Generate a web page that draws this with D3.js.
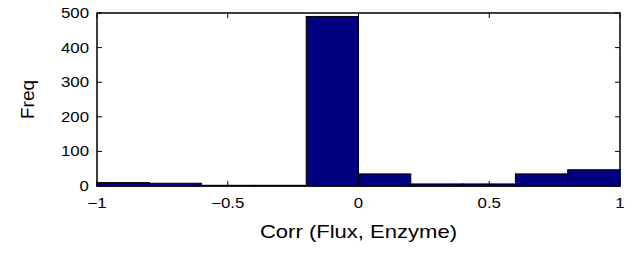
<!DOCTYPE html>
<html>
  <head>
    <meta charset="utf-8" />
    <script src="https://d3js.org/d3.v7.min.js"></script>
    <style>
      body { margin: 0; background: #fff; }
      text { font-family: "Liberation Sans", Arial, sans-serif; fill: #000; }
    </style>
  </head>
  <body>
    <svg id="chart" width="639" height="253"></svg>
    <script>
      // histogram bins (left edges) and counts
      var binEdges = [-1, -0.8, -0.6, -0.4, -0.2, 0, 0.2, 0.4, 0.6, 0.8];
      var binWidth = 0.2;
      var counts = [10, 8, 2, 2, 490, 35, 6, 6, 35, 47];
      var xTicks = [-1, -0.5, 0, 0.5, 1];
      var yTicks = [0, 100, 200, 300, 400, 500];

      var svg = d3.select("#chart");
      // plot box (note: "top" is a reserved window property, so use other names)
      var plotL = 97, plotR = 620, plotT = 13, plotB = 186;
      var stretch = 1.16;

      var x = d3.scaleLinear().domain([-1, 1]).range([plotL, plotR]);
      var y = d3.scaleLinear().domain([0, 500]).range([plotB, plotT]);

      // bars
      svg.selectAll(".bar")
        .data(counts)
        .enter().append("rect")
        .attr("class", "bar")
        .attr("x", function(d, i) { return x(binEdges[i]); })
        .attr("width", function(d, i) { return x(binEdges[i] + binWidth) - x(binEdges[i]); })
        .attr("y", function(d) { return y(d); })
        .attr("height", function(d) { return y(0) - y(d); })
        .attr("fill", "#000080")
        .attr("stroke", "#000")
        .attr("stroke-width", 1);

      // box
      svg.append("rect")
        .attr("x", plotL).attr("y", plotT)
        .attr("width", plotR - plotL).attr("height", plotB - plotT)
        .attr("fill", "none").attr("stroke", "#000").attr("stroke-width", 1.5);

      function fmt(v) {
        return String(v).replace("-", "\u2212");
      }

      function widen(sel) {
        sel.each(function() {
          var w = this.getComputedTextLength();
          d3.select(this).attr("textLength", w * stretch).attr("lengthAdjust", "spacingAndGlyphs");
        });
      }

      // x ticks (inward, bottom and top)
      var tickLen = 5;
      xTicks.forEach(function(t) {
        svg.append("line").attr("x1", x(t)).attr("x2", x(t))
          .attr("y1", plotB).attr("y2", plotB - tickLen).attr("stroke", "#000");
        svg.append("line").attr("x1", x(t)).attr("x2", x(t))
          .attr("y1", plotT).attr("y2", plotT + tickLen).attr("stroke", "#000");
      });
      svg.selectAll(".xlab")
        .data(xTicks)
        .enter().append("text")
        .attr("class", "xlab")
        .attr("x", function(d) { return x(d); })
        .attr("y", 208)
        .attr("text-anchor", "middle")
        .attr("font-size", 14.5)
        .text(fmt)
        .call(widen);

      yTicks.forEach(function(t) {
        svg.append("line").attr("x1", plotL).attr("x2", plotL + tickLen)
          .attr("y1", y(t)).attr("y2", y(t)).attr("stroke", "#000");
        svg.append("line").attr("x1", plotR).attr("x2", plotR - tickLen)
          .attr("y1", y(t)).attr("y2", y(t)).attr("stroke", "#000");
      });
      svg.selectAll(".ylab")
        .data(yTicks)
        .enter().append("text")
        .attr("class", "ylab")
        .attr("x", 89)
        .attr("y", function(d) { return y(d) + 5; })
        .attr("text-anchor", "end")
        .attr("font-size", 14.5)
        .text(fmt)
        .call(widen);

      svg.append("text")
        .attr("x", (plotL + plotR) / 2)
        .attr("y", 238)
        .attr("text-anchor", "middle")
        .attr("font-size", 19)
        .text("Corr (Flux, Enzyme)")
        .call(widen);

      svg.append("text")
        .attr("transform", "translate(34," + ((plotT + plotB) / 2) + ") rotate(-90)")
        .attr("text-anchor", "middle")
        .attr("font-size", 19)
        .text("Freq");
    </script>
  </body>
</html>
